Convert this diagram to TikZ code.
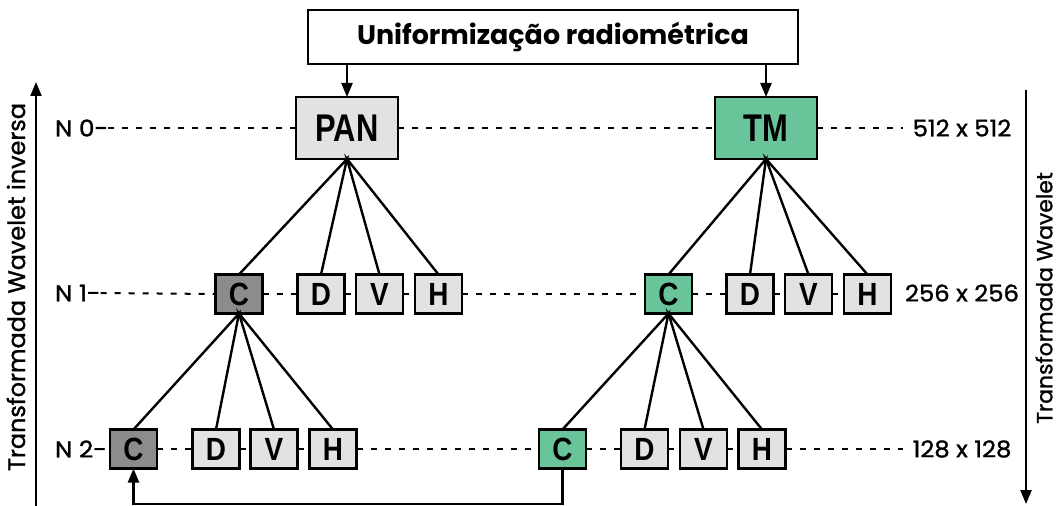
\documentclass[tikz,border=0pt]{standalone}
\usepackage{fontspec}
\setmainfont{Liberation Sans}
\newfontfamily\gothic{Poppins}
\newfontfamily\gothicmed[FakeBold=1.2]{Poppins}
\usetikzlibrary{arrows.meta}
\definecolor{lightbox}{RGB}{226,226,226}
\definecolor{darkbox}{RGB}{140,140,140}
\definecolor{greenbox}{RGB}{106,196,154}
\newcommand{\tall}[2]{\scalebox{1}[#1]{#2}}
\newcommand{\wide}[2]{\scalebox{#1}[1]{#2}}
\begin{document}
\begin{tikzpicture}[x=1bp,y=-1bp,
  every node/.style={inner sep=0pt,outer sep=0pt},
  bigbox/.style={draw,line width=2.8bp,minimum width=102bp,minimum height=62bp,
    font=\fontsize{31}{31}\selectfont\bfseries},
  coef/.style={draw,line width=2.4bp,minimum width=47bp,minimum height=39bp,
    font=\fontsize{28}{28}\selectfont\bfseries,fill=lightbox},
  lvl/.style={font=\gothicmed\fontsize{23}{23}\selectfont,anchor=west},
  size/.style={font=\gothicmed\fontsize{23}{23}\selectfont},
  axislabel/.style={font=\gothicmed\fontsize{#1}{#1}\selectfont,rotate=90},
  dashline/.style={line width=2bp,dash pattern=on 6bp off 8bp},
  branch/.style={line width=2.4bp},
  arr/.style={line width=2.3bp,-{Triangle[length=14bp,width=11bp]}}]
\useasboundingbox (0,0) rectangle (1061,506);

% radiometric normalisation box
\node[draw,line width=2.8bp,fill=white,minimum width=490bp,minimum height=54bp,
  font=\gothic\fontsize{27}{27}\selectfont\bfseries] (top) at (553,37) {Uniformização radiométrica};

% level 0 images
\node[bigbox,fill=lightbox] (pan) at (347,128) {\tall{1.25}{PAN}};
\node[bigbox,fill=greenbox] (tm) at (766,128) {\tall{1.25}{TM}};

% level 1 coefficients
\node[coef,fill=darkbox] (c1l) at (239,294) {\tall{1.15}{C}};
\node[coef] (d1l) at (321,294) {\tall{1.15}{D}};
\node[coef] (v1l) at (379.5,294) {\tall{1.15}{V}};
\node[coef] (h1l) at (438.5,294) {\tall{1.15}{H}};
\node[coef,fill=greenbox] (c1r) at (668.5,294) {\tall{1.15}{C}};
\node[coef] (d1r) at (750,294) {\tall{1.15}{D}};
\node[coef] (v1r) at (808.5,294) {\tall{1.15}{V}};
\node[coef] (h1r) at (867.5,294) {\tall{1.15}{H}};

% level 2 coefficients
\node[coef,fill=darkbox] (c2l) at (133.5,449) {\tall{1.15}{C}};
\node[coef] (d2l) at (216,449) {\tall{1.15}{D}};
\node[coef] (v2l) at (274,449) {\tall{1.15}{V}};
\node[coef] (h2l) at (333,449) {\tall{1.15}{H}};
\node[coef,fill=greenbox] (c2r) at (562.5,449) {\tall{1.15}{C}};
\node[coef] (d2r) at (644.5,449) {\tall{1.15}{D}};
\node[coef] (v2r) at (703.5,449) {\tall{1.15}{V}};
\node[coef] (h2r) at (762,449) {\tall{1.15}{H}};

% level labels and sizes
\node[lvl] (n0) at (55,128) {\wide{1.08}{N 0-}};
\node[lvl] (n1) at (55,293) {\wide{1.08}{N 1-}};
\node[lvl] (n2) at (55,449) {\wide{1.08}{N 2-}};
\node[size] (s0) at (962,128) {\wide{1.06}{512 x 512}};
\node[size] (s1) at (962,293) {\wide{1.06}{256 x 256}};
\node[size] (s2) at (962,449) {\wide{1.06}{128 x 128}};

% axes
\coordinate (lb) at (36,506);
\coordinate (lt) at (36,82);
\coordinate (rt) at (1026,90);
\coordinate (rb) at (1026,504);
\draw[arr] (lb) -- (lt);
\draw[arr] (rt) -- (rb);
\node[axislabel=24] (la) at (16,287) {Transformada Wavelet inversa};
\node[axislabel=22] (ra) at (1044,298) {Transformada Wavelet};

% dotted level guides
\draw[dashline] (n0.east) -- (pan.west);
\draw[dashline] (pan.east) -- (tm.west);
\draw[dashline] (tm.east) -- ([xshift=-10bp]s0.west);
\draw[dashline] (n1.east) -- (c1l.west);
\draw[dashline] (c1l.east) -- (d1l.west);
\draw[dashline] (d1l.east) -- (v1l.west);
\draw[dashline] (v1l.east) -- (h1l.west);
\draw[dashline] (h1l.east) -- (c1r.west);
\draw[dashline] (c1r.east) -- (d1r.west);
\draw[dashline] (d1r.east) -- (v1r.west);
\draw[dashline] (v1r.east) -- (h1r.west);
\draw[dashline] (c2l.east) -- (d2l.west);
\draw[dashline] (d2l.east) -- (v2l.west);
\draw[dashline] (v2l.east) -- (h2l.west);
\draw[dashline] (h2l.east) -- (c2r.west);
\draw[dashline] (c2r.east) -- (d2r.west);
\draw[dashline] (d2r.east) -- (v2r.west);
\draw[dashline] (v2r.east) -- (h2r.west);
\draw[dashline] (h2r.east) -- ([xshift=-10bp]s2.west);

% input arrows
\draw[arr] (top.south -| pan.north) -- (pan.north);
\draw[arr] (top.south -| tm.north) -- (tm.north);

% decomposition branches
\foreach \p/\a/\b/\c/\d in {pan/c1l/d1l/v1l/h1l, tm/c1r/d1r/v1r/h1r,
    c1l/c2l/d2l/v2l/h2l, c1r/c2r/d2r/v2r/h2r}{
  \draw[branch] (\a.north) -- (\p.south) -- (\b.north);
  \draw[branch] (\c.north) -- (\p.south) -- (\d.north);
}

% approximation substitution
\draw[arr] (c2r.south) -- (c2r.south |- 0,504) -| (c2l.south);
\end{tikzpicture}
\end{document}
